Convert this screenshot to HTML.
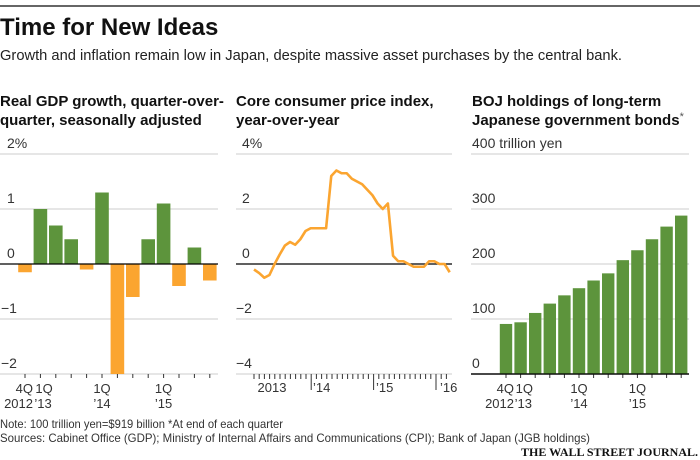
<!DOCTYPE html>
<html><head><meta charset="utf-8"><style>
body{margin:0;background:#fff}
svg{display:block;font-family:"Liberation Sans",sans-serif}
</style></head><body>
<svg width="700" height="460" viewBox="0 0 700 460">
<rect x="0" y="5" width="700" height="2" fill="#666"/>
<text x="0" y="35" font-size="24" font-weight="bold" fill="#111">Time for New Ideas</text>
<text x="0" y="60" font-size="15" fill="#222" textLength="622" lengthAdjust="spacingAndGlyphs">Growth and inflation remain low in Japan, despite massive asset purchases by the central bank.</text>
<g font-size="15" font-weight="bold" fill="#111">
<text x="0" y="106">Real GDP growth, quarter-over-</text>
<text x="0" y="125">quarter, seasonally adjusted</text>
<text x="236" y="106">Core consumer price index,</text>
<text x="236" y="125">year-over-year</text>
<text x="472" y="106">BOJ holdings of long-term</text>
<text x="472" y="125">Japanese government bonds<tspan font-weight="normal" font-size="11" dy="-5" fill="#555">*</tspan></text>
</g>
<g id="c1"></g>
<g id="c2"></g>
<g id="c3"></g>
<g font-size="12" fill="#333">
<text x="0" y="428" textLength="283" lengthAdjust="spacingAndGlyphs">Note: 100 trillion yen=$919 billion   *At end of each quarter</text>
<text x="0" y="442" textLength="590" lengthAdjust="spacingAndGlyphs">Sources: Cabinet Office (GDP); Ministry of Internal Affairs and Communications (CPI); Bank of Japan (JGB holdings)</text>
</g>
<text x="698" y="456" text-anchor="end" font-family="Liberation Serif,serif" font-weight="bold" font-size="12" fill="#111">THE WALL STREET JOURNAL.</text>
</svg>
<script>
const gdpValues=[-0.15,1.0,0.7,0.45,-0.1,1.3,-2.0,-0.6,0.45,1.1,-0.4,0.3,-0.3];
const gdpTicks=[2,1,0,-1,-2];
const gdpTickLabels=["2%","1","0","\u22121","\u22122"];
const cpiValues=[-0.2,-0.33,-0.5,-0.4,0,0.35,0.67,0.8,0.7,0.9,1.2,1.3,1.3,1.3,1.3,3.2,3.4,3.3,3.3,3.1,3.0,2.9,2.7,2.5,2.2,2.0,2.2,0.3,0.1,0.1,0.0,-0.1,-0.1,-0.1,0.1,0.1,0.0,0.0,-0.3];
const cpiTicks=[4,2,0,-2,-4];
const cpiTickLabels=["4%","2","0","\u22122","\u22124"];
const bojValues=[91,94,111,128,143,156,170,183,207,225,245,268,288];
const bojTicks=[400,300,200,100,0];
const bojTickLabels=["400 trillion yen","300","200","100","0"];
const NS="http://www.w3.org/2000/svg";
function mk(p,t,a){const e=document.createElementNS(NS,t);for(const k in a)e.setAttribute(k,a[k]);p.appendChild(e);return e;}
function txt(p,x,y,s,anchor,fs){const e=mk(p,"text",{x:x,y:y,"font-size":fs||14,fill:"#333","text-anchor":anchor||"start"});e.textContent=s;return e;}
function qLabels(g,x,pre){
  const items=[["4Q",x(0)+8,"end","2012"],["1Q",x(1)-5,"start","\u201913"],["1Q",x(5),"middle","\u201914"],["1Q",x(9),"middle","\u201915"]];
  items.forEach(a=>{const t1=txt(g,a[1],393,a[0],a[2],13);
  const t2=txt(g,a[2]=="start"?a[1]-1:a[1],408,a[3],a[2],13);});
}
const Y0=264;
(function(){
const g=document.getElementById("c1");
const y=v=>Y0-v*55;const x=i=>25+i*15.4;
gdpTicks.forEach((t,i)=>{const l=mk(g,"line",{x1:0,x2:218,y1:y(t),y2:y(t),stroke:"#ccc"});
const tx=txt(g,t<0?1:7,y(t)-6,gdpTickLabels[i]);});
gdpValues.forEach((v,i)=>{const r=mk(g,"rect",{x:x(i)-6.8,width:13.6,y:Math.min(y(v),y(0)),height:Math.abs(y(v)-y(0)),fill:v>=0?"#5d943c":"#fba530"});
const tk=mk(g,"line",{x1:x(i),x2:x(i),y1:374,y2:378,stroke:"#333"});});
mk(g,"line",{x1:0,x2:218,y1:y(0),y2:y(0),stroke:"#000","stroke-width":1.3});
qLabels(g,x,"gdp");
})();
(function(){
const g=document.getElementById("c2");
const y=v=>Y0-v*27.5;const x=i=>254+i*5.15;
cpiTicks.forEach((t,i)=>{const l=mk(g,"line",{x1:236,x2:452,y1:y(t),y2:y(t),stroke:"#ccc"});
const tx=txt(g,t<0?236:242,y(t)-6,cpiTickLabels[i]);});
mk(g,"line",{x1:236,x2:452,y1:y(0),y2:y(0),stroke:"#000","stroke-width":1.3});
for(let m=0;m<38;m++){const xx=254+m*5.2;const major=(m%12)==11;const tk=mk(g,"line",{x1:xx,x2:xx,y1:374,y2:major?390:379,stroke:"#333"});}
[["2013",272,"middle"],["\u201914",313,"start"],["\u201915",376,"start"],["\u201916",440,"start"]].forEach(a=>{const t=txt(g,a[1],392,a[0],a[2],13);});
const p=mk(g,"polyline",{points:cpiValues.map((v,i)=>x(i)+","+y(v)).join(" "),fill:"none",stroke:"#fba530","stroke-width":2.6,"stroke-linejoin":"round"});

})();
(function(){
const g=document.getElementById("c3");
const y=v=>374-v*0.55;const x=i=>506+i*14.6;
bojTicks.forEach((t,i)=>{const l=mk(g,"line",{x1:471,x2:689,y1:y(t),y2:y(t),stroke:t==0?"#000":"#ccc","stroke-width":t==0?1.3:1});
const tx=txt(g,472,y(t)-6,bojTickLabels[i]);});
bojValues.forEach((v,i)=>{const r=mk(g,"rect",{x:x(i)-6.2,width:12.4,y:y(v),height:y(0)-y(v),fill:"#5d943c"});
const tk=mk(g,"line",{x1:x(i),x2:x(i),y1:374,y2:378,stroke:"#333"});});
mk(g,"line",{x1:471,x2:689,y1:374,y2:374,stroke:"#000","stroke-width":1.3});
qLabels(g,x,"boj");
})();
</script>
</body></html>
